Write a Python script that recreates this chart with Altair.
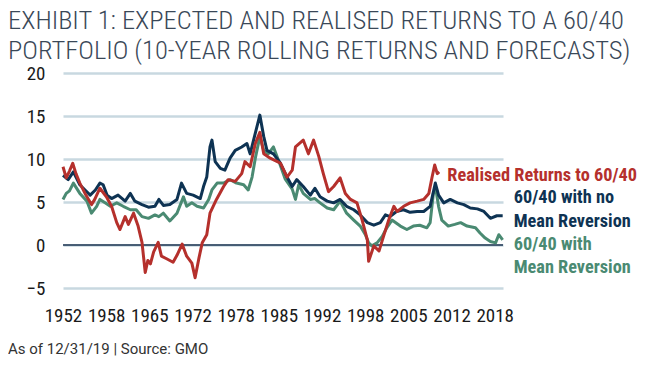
import altair as alt
import pandas as pd

TITLE_LINES = ["EXHIBIT 1: EXPECTED AND REALISED RETURNS TO A 60/40",
               "PORTFOLIO (10-YEAR ROLLING RETURNS AND FORECASTS)"]
FOOTER = "As of 12/31/19 | Source: GMO"

SERIES = ["Realised Returns to 60/40", "60/40 with no Mean Reversion", "60/40 with Mean Reversion"]
COLORS = ["#b5302c", "#0e3353", "#4a8a72"]

REAL_YEARS = [1952.0, 1952.5, 1953.0, 1953.5, 1954.0, 1954.6, 1955.4, 1956.4, 1956.9, 1957.7,
              1958.7, 1959.5, 1960.3, 1960.8, 1961.6, 1962.1, 1962.9, 1963.6, 1964.2, 1964.7,
              1965.1, 1965.5, 1966.0, 1966.7, 1967.2, 1968.0, 1969.0, 1969.6, 1970.4, 1971.1,
              1971.9, 1972.4, 1973.0, 1973.5, 1974.2, 1974.7, 1975.7, 1976.8, 1977.5, 1978.6,
              1979.6, 1980.1, 1980.9, 1981.7, 1982.4, 1983.0, 1984.0, 1985.1, 1985.6, 1986.6,
              1987.4, 1987.9, 1989.1, 1989.9, 1990.7, 1991.5, 1992.2, 1993.0, 1993.8, 1994.8,
              1995.6, 1996.4, 1997.4, 1998.2, 1999.0, 1999.2, 2000.0, 2000.8, 2001.5, 2002.3,
              2003.1, 2003.6, 2004.6, 2005.6, 2006.7, 2007.7, 2008.5, 2009.0, 2009.4, 2009.8,
              2010.1]
REAL_VALUES = [9.1, 7.8, 8.6, 9.5, 8.3, 7.2, 6.0, 4.7, 5.3, 6.6,
               5.6, 4.5, 2.6, 1.8, 3.3, 2.4, 3.7, 2.2, 0.3, -3.2,
               -1.8, -2.2, -0.8, 0.3, -1.3, -1.6, -2.0, -1.2, 0.1, -1.3,
               -2.1, -3.8, -1.5, 0.25, 1.2, 3.7, 5.3, 6.8, 7.6, 7.4,
               8.3, 9.7, 9.1, 11.8, 13.1, 10.6, 10.1, 9.7, 9.5, 7.9,
               8.7, 11.4, 12.2, 10.6, 12.2, 10.3, 8.3, 6.2, 6.8, 7.8,
               6.0, 5.3, 4.9, 2.9, 0.6, -1.9, -0.1, -0.7, 1.0, 2.9,
               4.5, 3.9, 4.5, 4.9, 5.1, 5.3, 6.0, 7.9, 9.3, 8.3,
               8.5]

NOMR_YEARS = [1952.0, 1952.8, 1953.6, 1954.6, 1955.4, 1956.2, 1957.0, 1957.7, 1958.2, 1958.8,
              1959.5, 1960.5, 1961.6, 1962.4, 1963.1, 1964.2, 1965.2, 1966.2, 1966.8, 1967.5,
              1968.5, 1969.6, 1970.3, 1971.1, 1972.1, 1973.2, 1973.7, 1974.2, 1974.7, 1975.0,
              1975.5, 1976.3, 1977.0, 1977.8, 1978.6, 1979.6, 1980.4, 1980.9, 1981.7, 1982.4,
              1983.0, 1983.5, 1984.5, 1985.5, 1986.6, 1987.4, 1988.1, 1989.1, 1990.2, 1990.9,
              1991.7, 1992.8, 1993.8, 1994.8, 1995.8, 1996.9, 1997.9, 1999.0, 2000.0, 2001.0,
              2001.8, 2002.5, 2003.5, 2004.6, 2005.6, 2006.7, 2007.7, 2008.7, 2009.5, 2010.0,
              2010.8, 2011.8, 2012.9, 2013.9, 2014.9, 2016.0, 2017.0, 2018.0, 2019.0, 2019.9]
NOMR_VALUES = [8.1, 7.6, 8.5, 7.0, 6.4, 5.8, 6.4, 7.2, 7.0, 5.8,
               5.4, 5.8, 5.1, 6.0, 5.1, 4.7, 4.4, 4.5, 5.3, 4.6,
               4.7, 5.3, 7.2, 6.0, 5.8, 5.4, 6.8, 7.9, 11.4, 12.2,
               9.7, 8.9, 8.7, 10.1, 11.0, 11.4, 11.8, 10.6, 13.0, 15.1,
               12.6, 11.0, 10.6, 9.6, 7.9, 6.8, 7.6, 6.8, 5.8, 6.6,
               5.6, 5.1, 4.9, 5.3, 4.5, 4.1, 3.5, 2.6, 2.3, 2.6,
               3.5, 3.3, 3.9, 4.1, 3.8, 3.9, 3.9, 4.5, 7.2, 5.8,
               4.9, 5.3, 4.9, 4.7, 4.3, 4.2, 3.9, 3.1, 3.4, 3.4]

MR_YEARS = [1952.0, 1952.5, 1953.0, 1953.6, 1954.6, 1955.7, 1956.4, 1957.2, 1957.7, 1958.5,
            1959.3, 1960.3, 1961.3, 1962.4, 1963.3, 1964.2, 1965.2, 1966.2, 1966.8, 1967.5,
            1968.5, 1969.6, 1970.6, 1971.1, 1971.9, 1972.7, 1973.7, 1974.5, 1975.0, 1975.8,
            1976.8, 1977.8, 1978.8, 1979.9, 1980.6, 1981.2, 1981.7, 1982.4, 1983.0, 1983.7,
            1984.5, 1985.5, 1986.3, 1987.4, 1987.9, 1988.4, 1989.1, 1990.2, 1990.9, 1991.7,
            1992.8, 1993.8, 1994.8, 1995.8, 1996.9, 1997.9, 1998.7, 1999.2, 1999.7, 2000.5,
            2001.3, 2002.0, 2002.8, 2004.1, 2005.1, 2006.1, 2007.1, 2008.2, 2008.7, 2009.2,
            2009.6, 2010.0, 2010.5, 2011.5, 2012.5, 2013.4, 2014.4, 2015.7, 2016.4, 2017.2,
            2018.0, 2018.8, 2019.3, 2019.9]
MR_VALUES = [5.3, 6.0, 6.3, 7.2, 6.0, 5.1, 3.7, 4.5, 5.3, 4.9,
             4.5, 4.9, 4.5, 4.1, 4.1, 3.3, 3.1, 3.5, 3.3, 3.7,
             2.8, 3.7, 5.6, 4.5, 4.9, 4.5, 4.3, 5.3, 6.4, 7.2,
             7.2, 7.6, 7.2, 7.0, 6.4, 7.9, 10.1, 12.6, 11.0, 10.6,
             11.4, 9.4, 7.7, 6.5, 5.3, 7.0, 6.0, 5.3, 5.4, 4.9,
             4.3, 4.1, 5.1, 3.7, 2.9, 2.2, 1.2, 0.25, -0.1, 0.25,
             1.0, 2.0, 2.9, 2.2, 1.8, 2.2, 2.3, 2.0, 2.6, 6.0,
             6.4, 4.5, 2.9, 2.2, 2.4, 2.6, 2.2, 2.0, 1.4, 0.8,
             0.4, 0.25, 1.2, 0.6]

X_TICK_LABELS = [1952, 1958, 1965, 1972, 1978, 1985, 1992, 1998, 2005, 2012, 2018]
X_TICK_POS = [1952 + i * 80 / 12 for i in range(len(X_TICK_LABELS))]
Y_TICKS = [-5, 0, 5, 10, 15, 20]

LABEL_TEXT = ["Realised Returns to 60/40", "60/40 with no", "Mean Reversion", "60/40 with", "Mean Reversion"]
LABEL_YEAR = [2011.35, 2021.6, 2021.6, 2021.6, 2021.6]
LABEL_VALUE = [8.0, 5.5, 2.7, 0.0, -2.65]
LABEL_SERIES = [SERIES[0], SERIES[1], SERIES[1], SERIES[2], SERIES[2]]

NARROW = "Roboto Condensed, Liberation Sans Narrow, Arial Narrow, sans-serif"

frames = []
for name, yrs, vals in [(SERIES[0], REAL_YEARS, REAL_VALUES),
                        (SERIES[1], NOMR_YEARS, NOMR_VALUES),
                        (SERIES[2], MR_YEARS, MR_VALUES)]:
    frames.append(pd.DataFrame({"year": yrs, "value": vals, "series": name}))
df = pd.concat(frames, ignore_index=True)

labels_df = pd.DataFrame({"year": LABEL_YEAR, "value": LABEL_VALUE,
                          "text": LABEL_TEXT, "series": LABEL_SERIES})

label_expr = "[" + ",".join(str(v) for v in X_TICK_LABELS) + "][round((datum.value - 1952) * 12 / 80)]"

x_scale = alt.Scale(domain=[1952, 2019.95], nice=False, zero=False)
y_scale = alt.Scale(domain=[-5, 20], nice=False, zero=False)
color_scale = alt.Scale(domain=SERIES, range=COLORS)

x_enc = alt.X("year:Q", scale=x_scale,
              axis=alt.Axis(values=X_TICK_POS, labelExpr=label_expr, title=None, grid=False,
                            domain=False, ticks=False, labelPadding=18, labelFont=NARROW,
                            labelFontSize=19, labelColor="#1a1a1a", labelFlush=False))
y_enc = alt.Y("value:Q", scale=y_scale,
              axis=alt.Axis(values=Y_TICKS, title=None, grid=True, gridColor="#c8d8e0",
                            gridWidth=2.5, domain=False, ticks=False, labelPadding=18,
                            labelFont=NARROW, labelFontSize=19, labelColor="#1a1a1a"))

zero_rule = alt.Chart(pd.DataFrame({"value": [0]})).mark_rule(
    color="#1b3350", strokeWidth=1.5).encode(y=alt.Y("value:Q", scale=y_scale))

def line_layer(name):
    return alt.Chart(df).transform_filter(alt.datum.series == name).mark_line(
        strokeWidth=3, strokeJoin="round").encode(
        x=x_enc, y=y_enc,
        color=alt.Color("series:N", scale=color_scale, legend=None))

text_layer = alt.Chart(labels_df).mark_text(
    align="left", baseline="middle", font=NARROW, fontSize=18.3, fontWeight="bold").encode(
    x=alt.X("year:Q", scale=x_scale), y=alt.Y("value:Q", scale=y_scale),
    text="text:N", color=alt.Color("series:N", scale=color_scale, legend=None))

footer = alt.Chart(pd.DataFrame({"t": [FOOTER]})).mark_text(
    align="left", baseline="middle", font="Roboto", fontSize=15, color="#333333").encode(
    text="t:N", x=alt.value(-55), y=alt.value(276))

chart = alt.layer(
    zero_rule, line_layer(SERIES[2]), line_layer(SERIES[1]), line_layer(SERIES[0]),
    text_layer, footer
).properties(
    width=440, height=215,
    title=alt.TitleParams(text=TITLE_LINES, anchor="start", frame="group", dx=-55, dy=14,
                          offset=14, font=NARROW, fontSize=26.5, fontWeight=300,
                          color="#3a4858", lineHeight=30),
    autosize=alt.AutoSizeParams(type="none"),
    padding={"left": 55, "top": 65, "right": 140, "bottom": 72},
).configure_view(stroke=None)

chart.save("out.html", embed_options={"renderer": "svg", "actions": False})
